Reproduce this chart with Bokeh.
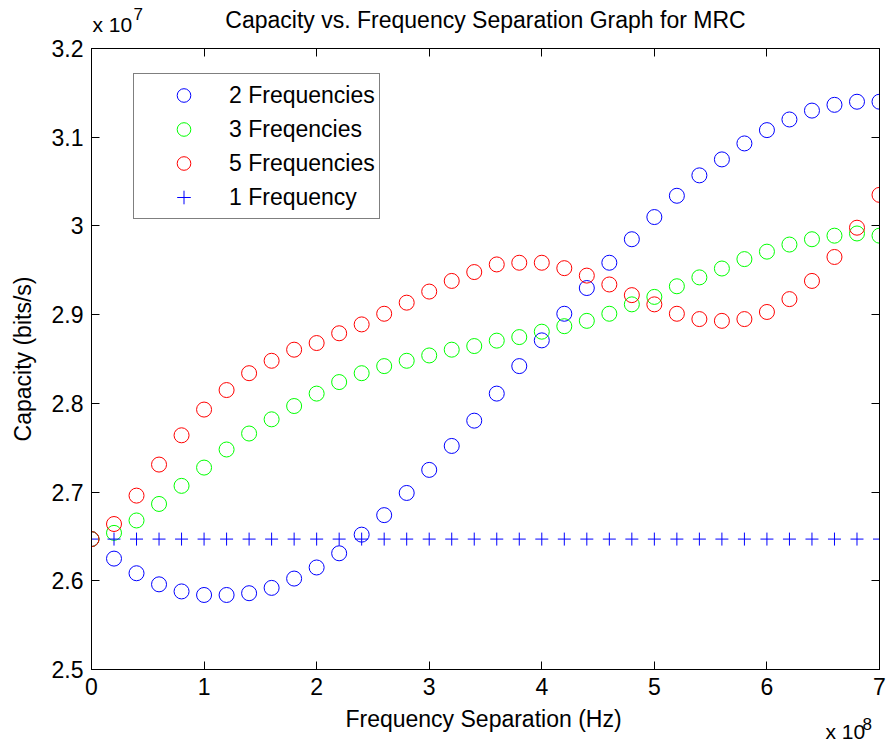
from bokeh.plotting import figure
from bokeh.models import (Range1d, LinearAxis, FixedTicker, CustomJSTickFormatter,
                          Label, Legend, LegendItem)
from bokeh.layouts import column
from bokeh.embed import file_html
from bokeh.resources import INLINE

# Frequency separation (x 10^8 Hz)
freq_sep = [0.0, 0.2, 0.4, 0.6, 0.8, 1.0, 1.2, 1.4, 1.6, 1.8,
            2.0, 2.2, 2.4, 2.6, 2.8, 3.0, 3.2, 3.4, 3.6, 3.8,
            4.0, 4.2, 4.4, 4.6, 4.8, 5.0, 5.2, 5.4, 5.6, 5.8,
            6.0, 6.2, 6.4, 6.6, 6.8, 7.0]

# Capacity (x 10^7 bits/s)
cap_2freq = [2.647, 2.625, 2.6085, 2.596, 2.588, 2.584, 2.584, 2.586, 2.592, 2.6025,
             2.615, 2.631, 2.652, 2.674, 2.699, 2.725, 2.752, 2.7805, 2.811, 2.842,
             2.871, 2.901, 2.930, 2.9585, 2.985, 3.010, 3.034, 3.057, 3.075, 3.093,
             3.108, 3.120, 3.130, 3.1365, 3.140, 3.140]
cap_3freq = [2.647, 2.654, 2.668, 2.6866, 2.707, 2.7276, 2.748, 2.766, 2.782, 2.797,
             2.811, 2.824, 2.834, 2.842, 2.848, 2.854, 2.8605, 2.8646, 2.8707, 2.8747,
             2.8808, 2.887, 2.893, 2.901, 2.9116, 2.920, 2.932, 2.942, 2.952, 2.9626,
             2.971, 2.979, 2.985, 2.989, 2.9915, 2.989]
cap_5freq = [2.647, 2.664, 2.696, 2.731, 2.764, 2.793, 2.815, 2.834, 2.848, 2.8605,
             2.868, 2.879, 2.889, 2.901, 2.9135, 2.926, 2.938, 2.948, 2.9566, 2.9585,
             2.9585, 2.9524, 2.944, 2.934, 2.922, 2.9116, 2.901, 2.895, 2.893, 2.895,
             2.903, 2.9175, 2.938, 2.965, 2.998, 3.035]
cap_1freq = [2.647, 2.647, 2.647, 2.647, 2.647, 2.647, 2.647, 2.647, 2.647, 2.647,
             2.647, 2.647, 2.647, 2.647, 2.647, 2.647, 2.647, 2.647, 2.647, 2.647,
             2.647, 2.647, 2.647, 2.647, 2.647, 2.647, 2.647, 2.647, 2.647, 2.647,
             2.647, 2.647, 2.647, 2.647, 2.647, 2.647]

x_ticks = [0, 1, 2, 3, 4, 5, 6, 7]
y_ticks = [2.5, 2.6, 2.7, 2.8, 2.9, 3.0, 3.1, 3.2]

title_text = "Capacity vs. Frequency Separation Graph for MRC"
x_label_text = "Frequency Separation (Hz)"
y_label_text = "Capacity (bits/s)"

FONT = "Liberation Sans"
FS = "23px"
W = 890
LEFT = 91
RIGHT = 11
TOP_H = 36
BOT_H = 39
MAIN_H = 744 - TOP_H - BOT_H


def strip(h):
    s = figure(width=W, height=h, output_backend="svg", toolbar_location=None,
               x_range=Range1d(0, 1), y_range=Range1d(0, 1),
               x_axis_type=None, y_axis_type=None,
               min_border_left=LEFT, min_border_right=RIGHT,
               min_border_top=0, min_border_bottom=0)
    s.outline_line_color = None
    s.background_fill_color = "white"
    s.border_fill_color = "white"
    s.xgrid.visible = False
    s.ygrid.visible = False
    return s


def add_text(fig, x, y, txt, fs, align="left"):
    # x, y in frame pixels (y measured upward from the strip bottom)
    fig.add_layout(Label(x=x, y=y, x_units="screen", y_units="screen", text=txt,
                         text_font=FONT, text_font_size=fs, text_color="black",
                         text_align=align, text_baseline="alphabetic"))


# ---- top strip: title and y exponent ----
top = strip(TOP_H)
add_text(top, 394, 16.5, title_text, FS, "center")
add_text(top, 1, 11.8, "x 10", "21px")
add_text(top, 42, 22.8, "7", "17px")

# ---- main plot ----
p = figure(width=W, height=MAIN_H, output_backend="svg", toolbar_location=None,
           x_range=Range1d(0, 7), y_range=Range1d(2.5, 3.2),
           min_border_left=LEFT, min_border_right=RIGHT, min_border_top=12, min_border_bottom=36)
p.background_fill_color = "white"
p.border_fill_color = "white"
p.outline_line_color = "black"
p.xgrid.visible = False
p.ygrid.visible = False

fmt_code = "return String(Math.round(tick*10)/10);"


def style_axis(ax, ticks, show_labels):
    ax.ticker = FixedTicker(ticks=ticks)
    ax.major_tick_in = 8
    ax.major_tick_out = 0
    ax.minor_tick_line_color = None
    ax.major_tick_line_color = "black"
    ax.axis_line_color = "black"
    ax.axis_line_width = 1
    if show_labels:
        ax.formatter = CustomJSTickFormatter(code=fmt_code)
        ax.major_label_text_font = FONT
        ax.major_label_text_font_size = FS
        ax.major_label_text_color = "black"
        ax.axis_label_text_font = FONT
        ax.axis_label_text_font_size = FS
        ax.axis_label_text_font_style = "normal"
        ax.axis_label_text_color = "black"
    else:
        ax.formatter = CustomJSTickFormatter(code="return '';")
        ax.major_label_text_font_size = "0px"
        ax.major_label_standoff = 0


style_axis(p.xaxis[0], x_ticks, True)
style_axis(p.yaxis[0], y_ticks, True)
p.yaxis[0].axis_label = y_label_text
p.xaxis[0].major_label_standoff = 8
p.yaxis[0].major_label_standoff = 8
p.yaxis[0].axis_label_standoff = 13

top_ax = LinearAxis()
style_axis(top_ax, x_ticks, False)
p.add_layout(top_ax, "above")
right_ax = LinearAxis()
style_axis(right_ax, y_ticks, False)
p.add_layout(right_ax, "right")

r2 = p.scatter(freq_sep, cap_2freq, marker="circle", size=15, fill_color=None,
               line_color="#0000ff", line_width=1)
r3 = p.scatter(freq_sep, cap_3freq, marker="circle", size=15, fill_color=None,
               line_color="#00ff00", line_width=1)
r5 = p.scatter(freq_sep, cap_5freq, marker="circle", size=15, fill_color=None,
               line_color="#ff0000", line_width=1)
r1 = p.scatter(freq_sep, cap_1freq, marker="cross", size=13,
               line_color="#0000ff", line_width=1)

legend = Legend(items=[LegendItem(label="2 Frequencies", renderers=[r2]),
                       LegendItem(label="3 Freqencies", renderers=[r3]),
                       LegendItem(label="5 Frequencies", renderers=[r5]),
                       LegendItem(label="1 Frequency", renderers=[r1])],
                location=(42, 450))
legend.border_line_color = "black"
legend.border_line_width = 1
legend.background_fill_color = "white"
legend.background_fill_alpha = 1
legend.label_text_font = FONT
legend.label_text_font_size = FS
legend.label_text_color = "black"
legend.padding = 4
legend.spacing = 0
legend.glyph_width = 91
legend.glyph_height = 34
legend.label_height = 34
legend.label_standoff = 0
legend.margin = 0
p.add_layout(legend)

# ---- bottom strip: x axis label and x exponent ----
bot = strip(BOT_H)
add_text(bot, 392, 25.5, x_label_text, FS, "center")
add_text(bot, 734, 12.8, "x 10", "21px")
add_text(bot, 771, 20.3, "8", "17px")

layout = column(top, p, bot, spacing=0)
open("out.html", "w").write(file_html(layout, INLINE))
